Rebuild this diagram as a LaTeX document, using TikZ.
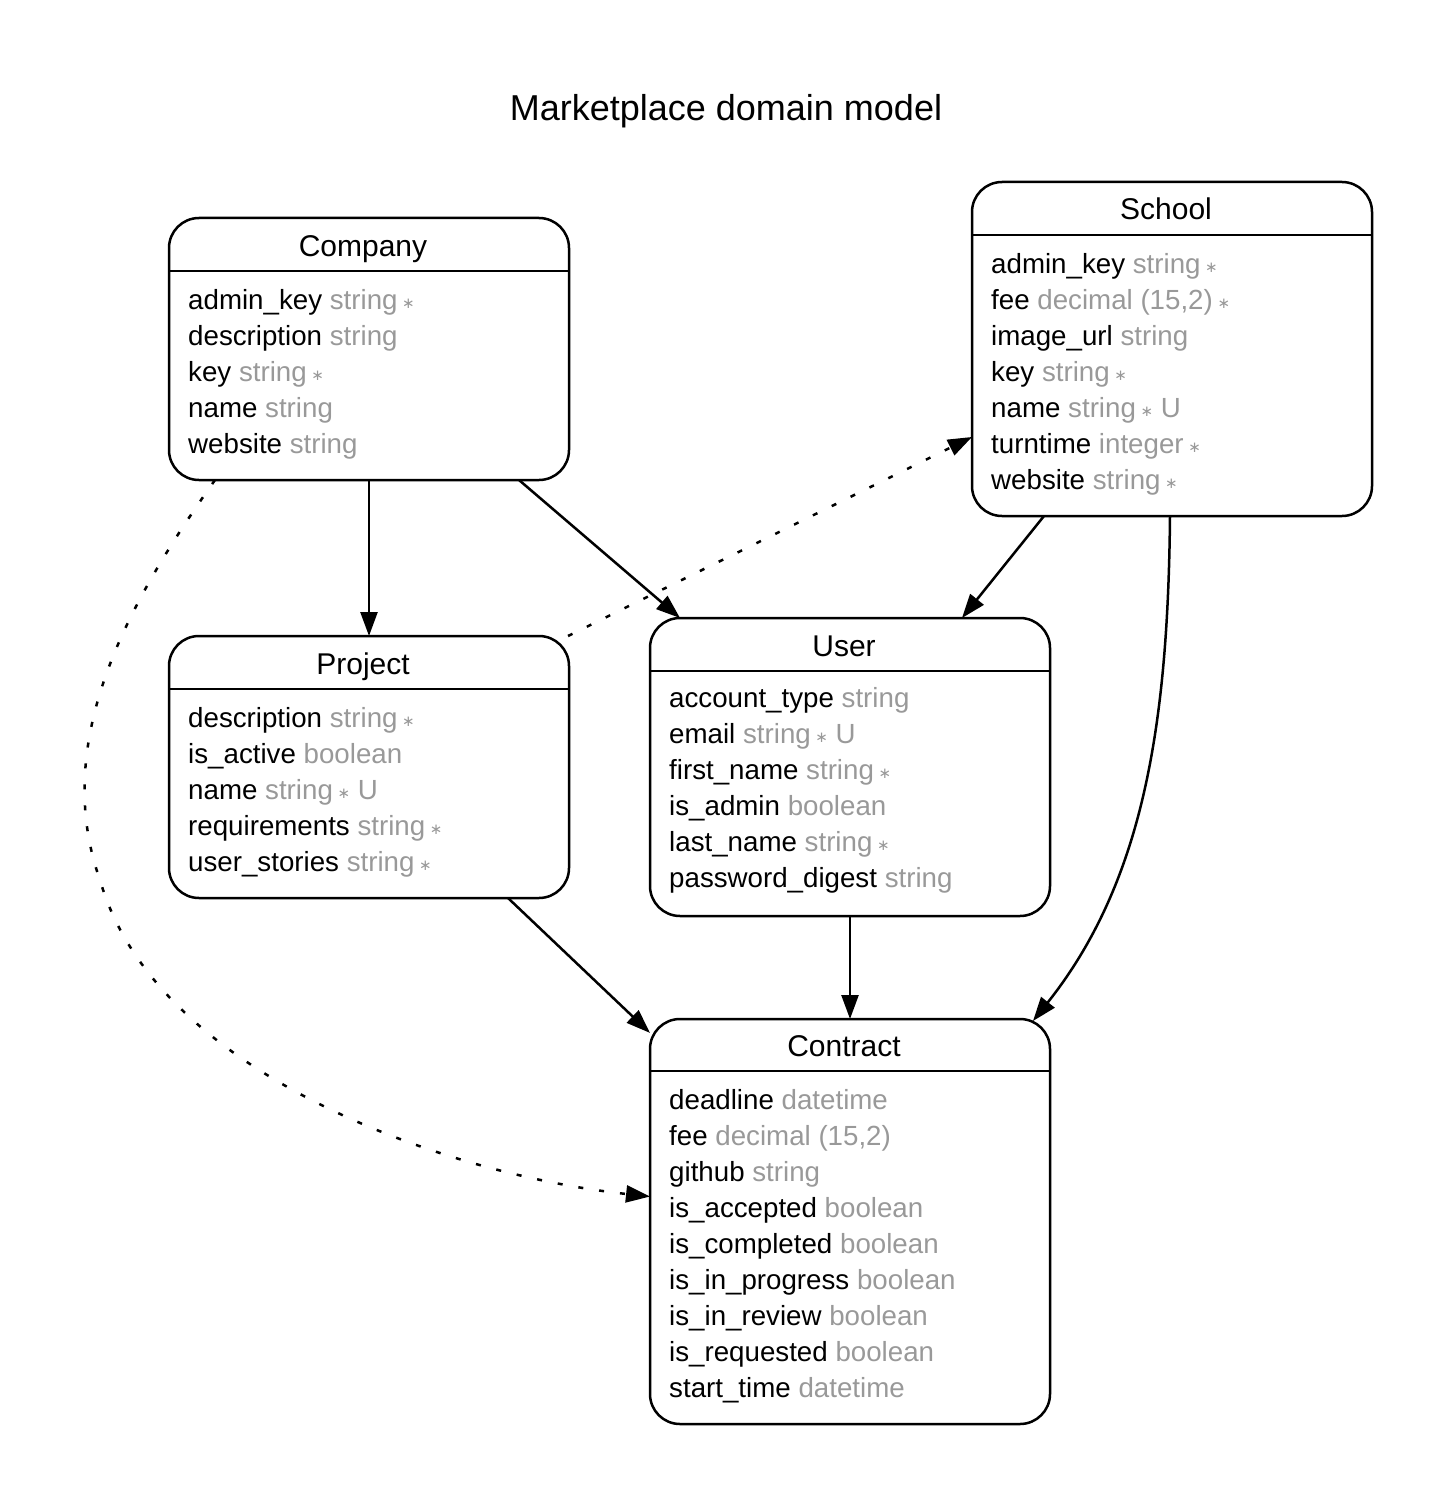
\documentclass[tikz,border=0pt]{standalone}
\usepackage{fontspec}
\setmainfont{Liberation Sans}
\newfontfamily\symfont{DejaVu Sans}
\usetikzlibrary{arrows.meta}
\definecolor{attrgray}{RGB}{153,153,153}
\newcommand{\ty}[1]{\textcolor{attrgray}{#1}}
\newcommand{\st}{\,{\symfont\fontsize{15}{15}\selectfont\textcolor{attrgray}{\raisebox{1pt}{∗}}}}
\newcommand{\un}{ \ty{U}}
\tikzset{
  ebox/.style={draw, line width=2.5pt, rounded corners=30pt, anchor=north west, minimum width=400pt, inner sep=0pt, outer sep=0pt},
  ename/.style={font=\fontsize{30}{36}\selectfont, anchor=base, inner sep=0pt},
  attr/.style={font=\fontsize{27.7}{36}\selectfont, anchor=base west, inner sep=0pt},
  hline/.style={line width=2.5pt},
  rel/.style={line width=2.5pt, -{Triangle[length=24pt,width=17pt]}},
  opt/.style={rel, dash pattern=on 5pt off 16pt},
}
\begin{document}
\begin{tikzpicture}[x=1pt,y=-1pt]
\useasboundingbox (0,0) rectangle (1453,1506);
\node[font=\fontsize{36}{40}\selectfont, anchor=base, inner sep=0pt] (title) at (726,121) {Marketplace domain model};

% Company
\node[ebox, minimum height=262pt] (company) at (169,218) {};
\node[ename] (companyN) at (363,256) {Company};
\draw[hline] ([yshift=-53pt]company.north west) -- ([yshift=-53pt]company.north east);
\foreach \t [count=\i from 0] in {{admin\_key \ty{string}\st},{description \ty{string}},{key \ty{string}\st},{name \ty{string}},{website \ty{string}}}
  \node[attr] (comp\i) at (188,{309.5+36*\i}) {\t};

% School
\node[ebox, minimum height=334pt] (school) at (972,182) {};
\node[ename] (schoolN) at (1166,220) {School};
\draw[hline] ([yshift=-53pt]school.north west) -- ([yshift=-53pt]school.north east);
\foreach \t [count=\i from 0] in {{admin\_key \ty{string}\st},{fee \ty{decimal (15,2)}\st},{image\_url \ty{string}},{key \ty{string}\st},{name \ty{string}\st\un},{turntime \ty{integer}\st},{website \ty{string}\st}}
  \node[attr] (sch\i) at (991,{273.5+36*\i}) {\t};

% Project
\node[ebox, minimum height=262pt] (project) at (169,636) {};
\node[ename] (projectN) at (363,674) {Project};
\draw[hline] ([yshift=-53pt]project.north west) -- ([yshift=-53pt]project.north east);
\foreach \t [count=\i from 0] in {{description \ty{string}\st},{is\_active \ty{boolean}},{name \ty{string}\st\un},{requirements \ty{string}\st},{user\_stories \ty{string}\st}}
  \node[attr] (proj\i) at (188,{727.5+36*\i}) {\t};

% User
\node[ebox, minimum height=298pt] (user) at (650,618) {};
\node[ename] (userN) at (844,656) {User};
\draw[hline] ([yshift=-53pt]user.north west) -- ([yshift=-53pt]user.north east);
\foreach \t [count=\i from 0] in {{account\_type \ty{string}},{email \ty{string}\st\un},{first\_name \ty{string}\st},{is\_admin \ty{boolean}},{last\_name \ty{string}\st},{password\_digest \ty{string}}}
  \node[attr] (usr\i) at (669,{707.5+36*\i}) {\t};

% Contract
\node[ebox, minimum height=405pt] (contract) at (650,1019) {};
\node[ename] (contractN) at (844,1056) {Contract};
\draw[hline] ([yshift=-52pt]contract.north west) -- ([yshift=-52pt]contract.north east);
\foreach \t [count=\i from 0] in {{deadline \ty{datetime}},{fee \ty{decimal (15,2)}},{github \ty{string}},{is\_accepted \ty{boolean}},{is\_completed \ty{boolean}},{is\_in\_progress \ty{boolean}},{is\_in\_review \ty{boolean}},{is\_requested \ty{boolean}},{start\_time \ty{datetime}}}
  \node[attr] (con\i) at (669,{1109.5+36*\i}) {\t};

% Relations
\draw[rel] (company.south) -- (project.north);
\draw[rel] ([xshift=150pt]company.south) -- ([xshift=-170pt]user.north);
\draw[rel] ([xshift=-128pt]school.south) -- ([xshift=112pt]user.north);
\draw[rel] ([xshift=-2pt]school.south) .. controls (1168,720) and (1145,880) .. ([xshift=183pt,yshift=-2pt]contract.north);
\draw[rel] ([xshift=139pt]project.south) -- (contract);
\draw[rel] (user.south) -- (contract.north);
\draw[opt] ([xshift=-1pt]project.north east) -- ([yshift=-88pt]school.west);
\draw[opt] ([xshift=-154pt]company.south) .. controls (130,600) and (50,740) .. (100,880) .. controls (156,1076) and (450,1175) .. ([yshift=25pt]contract.west);
\end{tikzpicture}
\end{document}
